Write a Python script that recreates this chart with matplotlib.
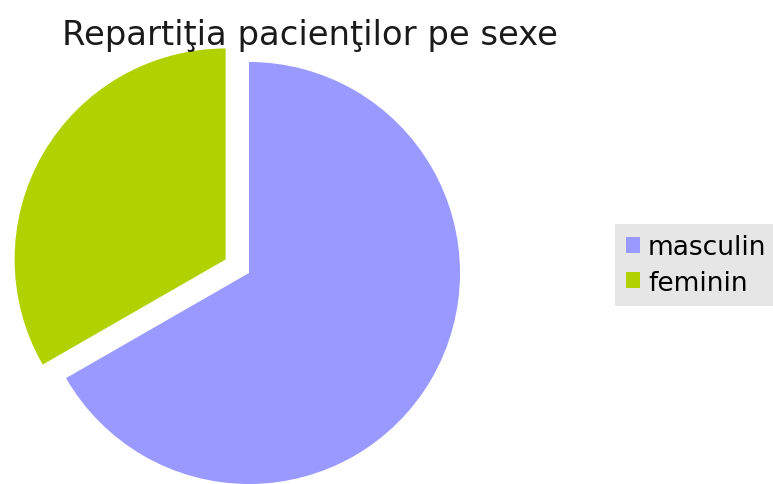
import matplotlib

matplotlib.use("Agg")

import matplotlib.pyplot as plt

labels = ["masculin", "feminin"]
shares = [66.7, 33.3]
colors = ["#9999ff", "#b2d100"]

W, H = 773, 485
R = 211

fig = plt.figure(figsize=(W / 100, H / 100), dpi=100)
ax = fig.add_axes([0, 0, 1, 1])

# explode is taken in data units (not scaled by radius), here pixels
wedges, _ = ax.pie(
    shares,
    colors=colors,
    explode=[0, 0.128 * R],
    startangle=90,
    counterclock=False,
    center=(249, H - 274),
    radius=R,
    wedgeprops={"linewidth": 0},
)

# pie() resets the limits, so put pixel coordinates back afterwards
ax.set_xlim(0, W)
ax.set_ylim(0, H)
ax.set_aspect("equal")
ax.axis("off")

fig.text(
    310 / W,
    1 - 45 / H,
    "Repartiţia pacienţilor pe sexe",
    ha="center",
    va="baseline",
    fontsize=24.4,
    color="#1a1a1a",
)

leg = fig.legend(
    wedges,
    labels,
    loc="center left",
    bbox_to_anchor=(615 / W, 1 - 266 / H),
    fontsize=19,
    frameon=True,
    fancybox=False,
    handlelength=0.55,
    handleheight=0.55,
    handletextpad=0.3,
    borderpad=0.4,
    labelspacing=0.35,
    borderaxespad=0,
)
leg.get_frame().set_facecolor("#e6e6e6")
leg.get_frame().set_edgecolor("none")
leg.get_frame().set_alpha(1)

fig.savefig("out.png", dpi=100)
